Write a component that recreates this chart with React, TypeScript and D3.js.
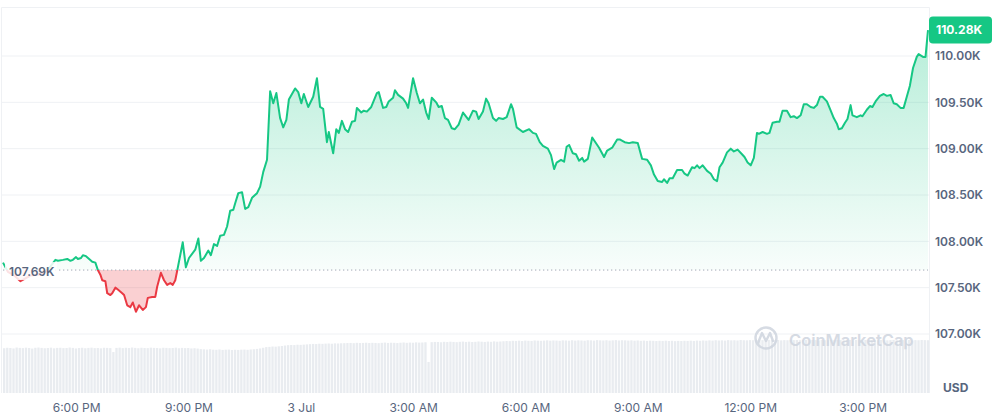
import { useEffect, useRef } from "react";
import * as d3 from "d3";

// ── Data ──────────────────────────────────────────────────────────────────────

// minutes after 2 Jul, 16:00
const TIMES = [
  2, 6, 10, 20, 30, 38, 46, 58, 70, 78, 86, 90, 98, 105, 110, 114, 119, 122, 127, 130,
  135, 140, 145, 150, 154, 158, 161, 166, 169, 174, 177, 182, 186, 193, 196, 201, 206, 210, 215, 220,
  226, 231, 234, 241, 246, 249, 255, 260, 265, 270, 274, 278, 281, 290, 295, 300, 310, 315, 319, 324,
  331, 335, 340, 345, 350, 356, 361, 366, 371, 374, 379, 385, 390, 395, 401, 409, 414, 419, 425, 430,
  435, 440, 446, 451, 456, 460, 470, 475, 480, 484, 491, 499, 505, 510, 515, 521, 524, 531, 536, 540,
  545, 550, 555, 561, 566, 569, 576, 580, 585, 592, 601, 604, 611, 616, 620, 627, 630, 635, 643, 648,
  651, 659, 665, 670, 675, 680, 684, 689, 696, 700, 705, 710, 715, 721, 726, 732, 739, 748, 755, 760,
  764, 771, 776, 780, 787, 792, 796, 803, 809, 816, 819, 825, 835, 845, 851, 856, 862, 867, 875, 880,
  885, 889, 896, 901, 905, 909, 915, 920, 925, 930, 933, 939, 946, 950, 957, 965, 970, 978, 986, 990,
  998, 1005, 1011, 1019, 1026, 1034, 1040, 1045, 1051, 1058, 1061, 1066, 1070, 1075, 1082, 1090, 1094, 1099, 1106, 1110,
  1114, 1118, 1123, 1130, 1136, 1141, 1146, 1150, 1155, 1162, 1168, 1173, 1179, 1186, 1190, 1195, 1200, 1205, 1210, 1213,
  1219, 1226, 1230, 1235, 1242, 1246, 1251, 1258, 1264, 1269, 1274, 1280, 1285, 1290, 1296, 1301, 1306, 1311, 1315, 1322,
  1327, 1333, 1338, 1341, 1346, 1351, 1355, 1360, 1363, 1370, 1376, 1379, 1386, 1391, 1395, 1400, 1407, 1413, 1418, 1424,
  1429, 1434, 1440, 1445, 1450, 1455, 1460, 1466, 1469, 1476, 1480, 1484,
];

const PRICES = [
  107770, 107720, 107670, 107630, 107570, 107600, 107630, 107640, 107670, 107730, 107800, 107790, 107800, 107810, 107790, 107800, 107830, 107810, 107820, 107850,
  107840, 107810, 107780, 107770, 107690, 107640, 107580, 107570, 107440, 107420, 107440, 107500, 107480, 107440, 107420, 107310, 107290, 107340, 107240, 107310,
  107260, 107290, 107390, 107400, 107400, 107510, 107660, 107580, 107530, 107550, 107530, 107580, 107680, 107990, 107720, 107820, 107910, 108030, 107790, 107820,
  107900, 107850, 107970, 107950, 108060, 108070, 108160, 108330, 108340, 108410, 108520, 108530, 108350, 108370, 108470, 108520, 108590, 108750, 108880, 109620,
  109490, 109600, 109330, 109230, 109310, 109530, 109650, 109610, 109490, 109590, 109450, 109560, 109760, 109450, 109430, 109070, 109180, 108950, 109210, 109170,
  109300, 109210, 109180, 109290, 109300, 109440, 109390, 109410, 109400, 109450, 109600, 109610, 109440, 109450, 109510, 109550, 109630, 109580, 109540, 109490,
  109440, 109760, 109600, 109490, 109530, 109390, 109320, 109550, 109500, 109450, 109460, 109330, 109310, 109220, 109210, 109260, 109390, 109310, 109410, 109400,
  109320, 109400, 109540, 109490, 109330, 109300, 109330, 109320, 109340, 109480, 109430, 109230, 109180, 109210, 109170, 109160, 109070, 109030, 109000, 108930,
  108780, 108850, 108880, 108860, 109020, 109040, 108950, 108940, 108870, 108900, 108860, 108890, 109120, 109080, 109010, 108910, 108980, 109010, 109100, 109100,
  109070, 109060, 109070, 109060, 108890, 108880, 108820, 108720, 108650, 108640, 108670, 108630, 108680, 108680, 108770, 108770, 108730, 108710, 108800, 108790,
  108820, 108790, 108820, 108760, 108730, 108670, 108650, 108800, 108850, 108960, 109000, 108970, 108990, 108940, 108910, 108850, 108820, 108900, 109170, 109160,
  109180, 109160, 109170, 109280, 109290, 109290, 109410, 109410, 109340, 109350, 109330, 109360, 109480, 109480, 109450, 109440, 109470, 109560, 109560, 109510,
  109430, 109330, 109270, 109210, 109220, 109280, 109320, 109470, 109360, 109340, 109360, 109350, 109420, 109460, 109450, 109510, 109570, 109590, 109570, 109580,
  109490, 109480, 109440, 109440, 109560, 109680, 109870, 109990, 110020, 109990, 109990, 110280,
];

// volume bars ($B), one every 5 minutes from 16:02
const VOL_START = 2;
const VOL_STEP = 5;
const VOLUMES = [
  39.8, 40.2, 40.0, 39.6, 40.4, 40.1, 39.9, 40.3, 40.0, 39.5, 40.2, 40.4, 40.1, 39.8, 40.0, 40.3, 39.7, 40.1, 40.2, 39.9,
  40.0, 40.4, 40.1, 39.6, 40.0, 40.2, 39.8, 40.1, 40.3, 39.9, 40.0, 39.7, 40.2, 40.1, 39.9, 36.4,
  40.1, 40.3, 39.9, 40.2, 40.0, 40.4, 40.1, 39.8, 40.2, 40.0, 39.9, 40.3, 40.1, 40.0, 39.7, 40.2, 40.1, 39.9, 40.0, 40.3,
  39.8, 40.1, 39.9, 40.0, 39.6, 39.8, 39.5,
  39.0, 38.8, 38.6, 38.9, 38.5, 38.4, 38.7, 38.3, 38.5, 38.6, 38.2, 38.4, 38.3, 38.5, 38.6, 38.4, 38.7, 38.9, 39.2, 39.6,
  40.2, 40.8, 41.0, 41.3, 41.2, 41.5, 41.8,
  42.2, 42.5, 42.7, 42.6, 42.9, 42.8, 43.0, 43.2,
  43.4, 43.6, 43.5, 43.8, 43.7, 43.9, 44.0, 43.8, 44.1, 44.0, 44.2, 44.3,
  44.4, 44.5, 44.3, 44.6, 44.4, 44.5, 44.7, 44.4, 44.6, 44.5, 44.3, 44.6, 44.8, 44.5, 44.7, 44.6, 44.4, 44.7, 44.9, 44.6,
  44.8, 44.7, 45.0, 44.8, 44.9, 45.1, 27.6,
  45.2, 45.4, 45.3, 45.1, 45.5, 45.3, 45.6, 45.4, 45.2, 45.5, 45.7, 45.4, 45.6, 45.3, 45.5, 45.8, 45.6, 45.4, 45.7, 45.5,
  45.9, 45.6, 45.8,
  46.0, 46.2, 46.1, 46.4, 46.3, 46.5, 46.2, 46.6, 46.4, 46.3, 46.7, 46.5, 46.4, 46.6, 46.8, 46.5, 46.7, 46.6, 46.4, 46.8,
  46.7, 46.5, 46.9, 46.6, 46.8, 46.7, 46.5, 46.9, 46.8, 46.6, 47.0, 46.8, 46.7, 46.9, 46.6, 46.8, 47.0, 46.7, 46.9, 46.8,
  46.6, 46.8, 46.5, 46.7, 46.4, 46.6, 46.3, 46.5, 46.4, 46.2, 46.4, 46.3, 46.5, 46.2, 46.4, 46.1, 46.3, 46.2, 46.4, 46.3,
  46.5, 46.3, 46.6, 46.4, 46.7, 46.5, 46.8, 46.6, 46.9, 46.7, 46.8, 46.6, 47.0, 46.8, 46.9, 46.7, 47.1, 46.9, 46.8, 47.0,
  46.9, 47.1, 46.8, 47.0, 46.9, 47.2, 47.0, 46.9, 47.1, 46.8, 47.0, 46.9, 47.2, 47.0, 47.1, 46.9, 47.0, 47.2, 46.9, 47.1,
  47.0, 46.8, 47.1, 46.9, 47.0, 47.2, 46.9, 47.1, 47.0, 46.8, 47.0, 47.1, 46.9, 47.2, 47.0, 46.9, 47.1, 47.0, 46.8, 47.0,
  46.9, 47.1, 47.0, 46.8, 47.0, 47.2, 46.9, 47.1, 47.0, 46.9, 47.1, 46.8, 47.0, 46.9, 47.1, 47.0, 46.9,
];

const Y_TICKS = [107000, 107500, 108000, 108500, 109000, 109500, 110000];
const OPEN_PRICE = 107690;
const LAST_PRICE = 110280;

// ── Config ────────────────────────────────────────────────────────────────────

const W = 998;
const H = 415;
const PLOT = { left: 3, right: 928, top: 8, bottom: 393 };
const GREEN = "#16c784";
const RED = "#ea3943";
const TEXT = "#58667e";
const GRID = "#eff1f4";
const BASE = new Date(2025, 6, 2, 16, 0).getTime();

type Point = { date: Date; price: number };

// ── Component ─────────────────────────────────────────────────────────────────

const App = () => {
  const svgRef = useRef<SVGSVGElement>(null);

  useEffect(() => {
    if (!svgRef.current) return;
    const svg = d3.select(svgRef.current);
    svg.selectAll("*").remove();

    const data: Point[] = TIMES.map((t, i) => ({
      date: new Date(BASE + t * 60000),
      price: PRICES[i],
    }));
    const vols = VOLUMES.map((v, i) => ({
      date: new Date(BASE + (VOL_START + i * VOL_STEP) * 60000),
      v,
    }));

    const x = d3.scaleTime()
      .domain(d3.extent(data, (d) => d.date) as [Date, Date])
      .range([PLOT.left, PLOT.right]);
    const y = d3.scaleLinear().domain([107000, 110000]).range([334, 56]);
    const yVol = d3.scaleLinear().domain([0, 48]).range([PLOT.bottom, 339]);
    const baseY = y(OPEN_PRICE);

    const defs = svg.append("defs");
    const gGreen = defs.append("linearGradient")
      .attr("id", "gGreen").attr("gradientUnits", "userSpaceOnUse")
      .attr("x1", 0).attr("x2", 0).attr("y1", 25).attr("y2", baseY);
    gGreen.append("stop").attr("offset", 0).attr("stop-color", GREEN).attr("stop-opacity", 0.32);
    gGreen.append("stop").attr("offset", 1).attr("stop-color", GREEN).attr("stop-opacity", 0.03);

    defs.append("clipPath").attr("id", "clipUp")
      .append("rect").attr("x", 0).attr("y", 0).attr("width", W).attr("height", baseY);
    defs.append("clipPath").attr("id", "clipDown")
      .append("rect").attr("x", 0).attr("y", baseY).attr("width", W).attr("height", H - baseY);

    // Grid lines + frame
    svg.append("g")
      .selectAll("line")
      .data(Y_TICKS)
      .join("line")
      .attr("x1", 2).attr("x2", 929.5)
      .attr("y1", (d) => y(d)).attr("y2", (d) => y(d))
      .attr("stroke", GRID);

    svg.append("path")
      .attr("d", `M1.5,${PLOT.bottom} V7.5 H929.5 V${PLOT.bottom}`)
      .attr("fill", "none")
      .attr("stroke", GRID);

    // Volume bars
    svg.append("g")
      .selectAll("rect")
      .data(vols)
      .join("rect")
      .attr("x", (d) => x(d.date))
      .attr("y", (d) => yVol(d.v))
      .attr("width", 2.3)
      .attr("height", (d) => PLOT.bottom - yVol(d.v))
      .attr("fill", "#e9ecf0");

    // Watermark
    const wm = svg.append("g").attr("opacity", 0.85);
    wm.append("circle")
      .attr("cx", 766).attr("cy", 338).attr("r", 10.5)
      .attr("fill", "none").attr("stroke", "#cfd5df").attr("stroke-width", 2.4);
    wm.append("path")
      .attr("d", "M758,343 L762,333 L766,341 L770,333 L773,341")
      .attr("fill", "none").attr("stroke", "#cfd5df").attr("stroke-width", 2.4)
      .attr("stroke-linejoin", "round").attr("stroke-linecap", "round");
    wm.append("text")
      .attr("x", 789).attr("y", 345.5)
      .attr("font-size", 16.5).attr("font-weight", 600)
      .attr("fill", "#cfd5df")
      .text("CoinMarketCap");

    // Areas
    const area = d3.area<Point>()
      .x((d) => x(d.date))
      .y0(baseY)
      .y1((d) => y(d.price));

    svg.append("path")
      .datum(data)
      .attr("clip-path", "url(#clipUp)")
      .attr("fill", "url(#gGreen)")
      .attr("d", area);

    svg.append("path")
      .datum(data)
      .attr("clip-path", "url(#clipDown)")
      .attr("fill", RED)
      .attr("fill-opacity", 0.24)
      .attr("d", area);

    // Open price dotted line
    svg.append("line")
      .attr("x1", PLOT.left).attr("x2", PLOT.right)
      .attr("y1", baseY).attr("y2", baseY)
      .attr("stroke", "#a3a9b6")
      .attr("stroke-width", 1)
      .attr("stroke-dasharray", "1.3,2.7");

    // Lines
    const line = d3.line<Point>()
      .x((d) => x(d.date))
      .y((d) => y(d.price));

    [
      { clip: "clipUp", color: GREEN },
      { clip: "clipDown", color: RED },
    ].forEach(({ clip, color }) => {
      svg.append("path")
        .datum(data)
        .attr("clip-path", `url(#${clip})`)
        .attr("fill", "none")
        .attr("stroke", color)
        .attr("stroke-width", 2)
        .attr("stroke-linejoin", "round")
        .attr("d", line);
    });

    // Open price label
    svg.append("rect")
      .attr("x", 5).attr("y", baseY - 8).attr("width", 52).attr("height", 18)
      .attr("fill", "white").attr("fill-opacity", 0.85);
    svg.append("text")
      .attr("x", 9).attr("y", baseY + 2)
      .attr("dy", "0.35em")
      .attr("font-size", 12).attr("font-weight", 600)
      .attr("fill", TEXT)
      .text(`${d3.format(".2f")(OPEN_PRICE / 1000)}K`);

    // Y axis labels
    svg.append("g")
      .selectAll("text")
      .data(Y_TICKS)
      .join("text")
      .attr("x", 935)
      .attr("y", (d) => y(d))
      .attr("dy", "0.35em")
      .attr("font-size", 12).attr("font-weight", 600)
      .attr("fill", TEXT)
      .text((d) => `${d3.format(".2f")(d / 1000)}K`);

    // X axis labels
    const fmtHour = d3.timeFormat("%-I:%M %p");
    const fmtDay = d3.timeFormat("%-d %b");
    svg.append("g")
      .selectAll("text")
      .data(x.ticks(d3.timeHour.every(3)!))
      .join("text")
      .attr("x", (d) => x(d))
      .attr("y", 411.5)
      .attr("text-anchor", "middle")
      .attr("font-size", 12)
      .attr("fill", TEXT)
      .text((d) => (d.getHours() === 0 ? fmtDay(d) : fmtHour(d)));

    // Last price tag
    const tagY = y(LAST_PRICE);
    svg.append("rect")
      .attr("x", 929).attr("y", tagY - 13.5).attr("width", 63).attr("height", 27)
      .attr("rx", 4)
      .attr("fill", GREEN);
    svg.append("text")
      .attr("x", 936).attr("y", tagY)
      .attr("dy", "0.35em")
      .attr("font-size", 12).attr("font-weight", 700)
      .attr("fill", "white")
      .text(`${d3.format(".2f")(LAST_PRICE / 1000)}K`);

    // Currency
    svg.append("text")
      .attr("x", 943).attr("y", 388)
      .attr("dy", "0.35em")
      .attr("font-size", 12).attr("font-weight", 700)
      .attr("fill", TEXT)
      .text("USD");
  }, []);

  return (
    <svg
      ref={svgRef}
      width={W}
      height={H}
      style={{ position: "absolute", left: 0, top: 0, fontFamily: "Inter, sans-serif", background: "white" }}
    />
  );
};

export default App;
